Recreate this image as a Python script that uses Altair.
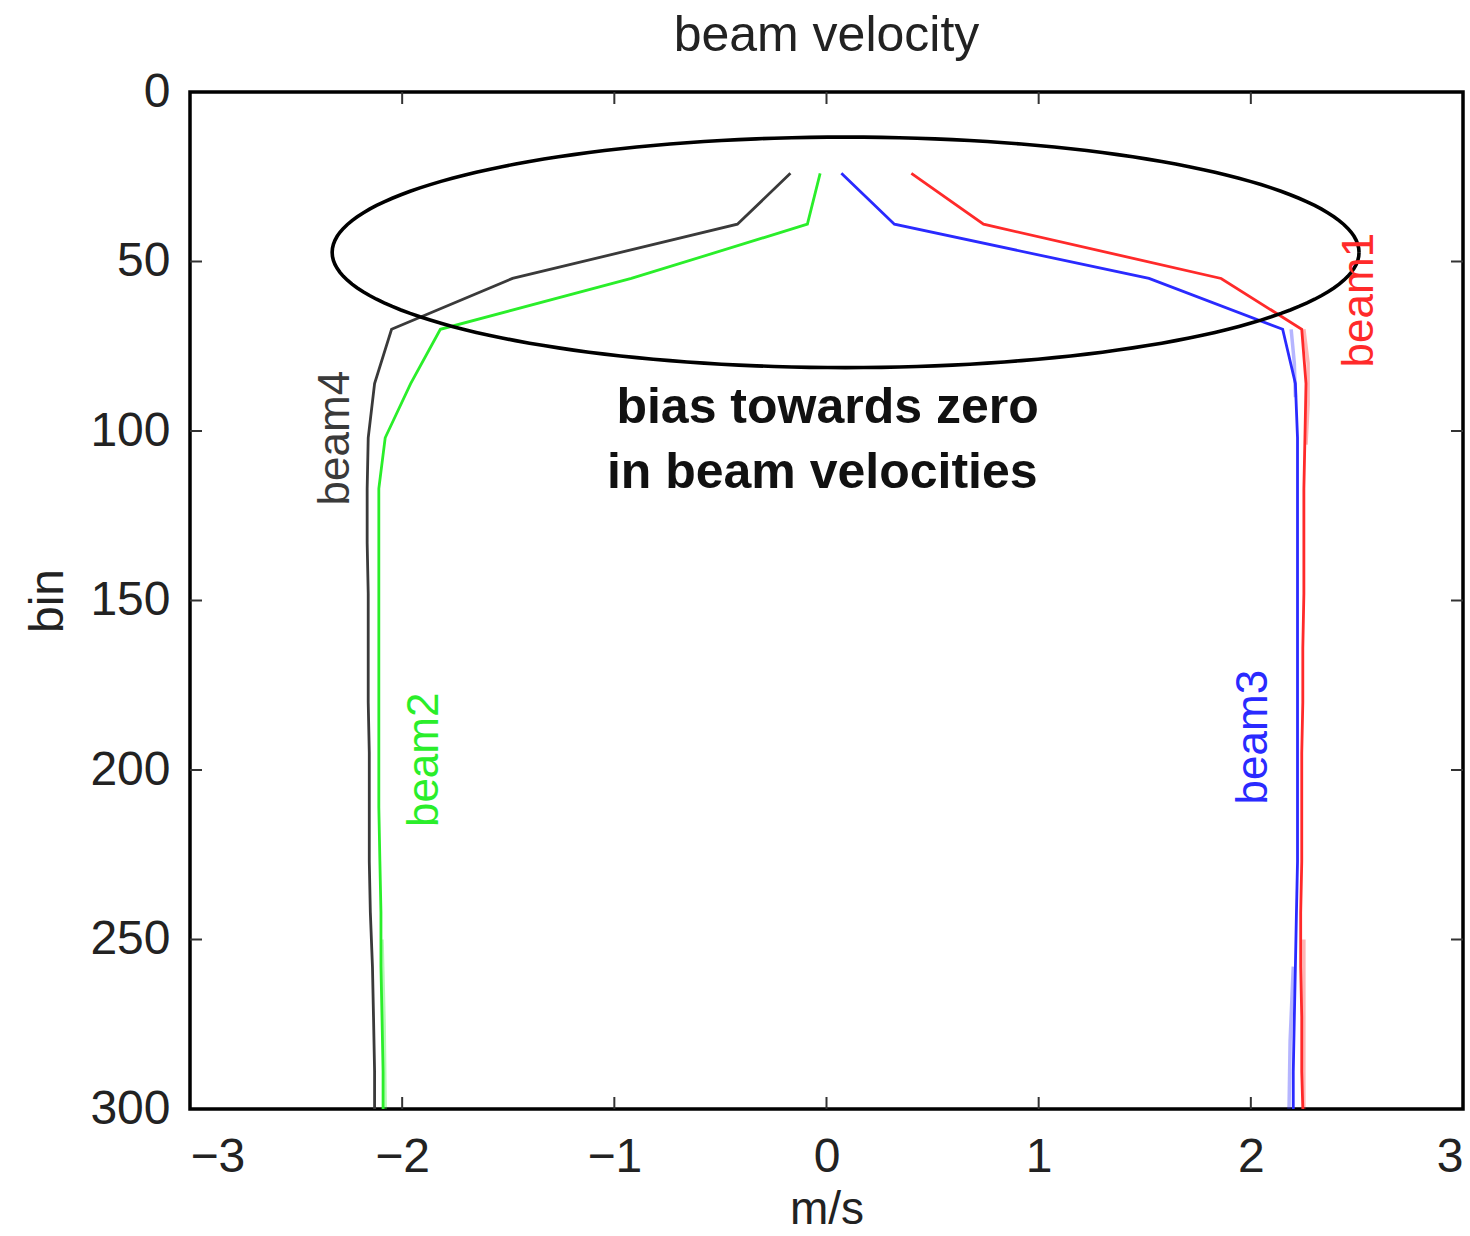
import altair as alt
import pandas as pd

# ---------------- data ----------------
bins = [24, 39, 55, 70, 86, 102, 117, 133, 148, 164, 180, 195, 211, 227, 242, 258, 273, 289, 300]

beam1 = [0.40, 0.74, 1.86, 2.24, 2.26, 2.255, 2.25, 2.25, 2.25, 2.245, 2.245, 2.24, 2.24, 2.24, 2.235, 2.235, 2.24, 2.24, 2.245]
beam2 = [-0.03, -0.09, -0.92, -1.82, -1.96, -2.08, -2.11, -2.11, -2.11, -2.11, -2.11, -2.11, -2.11, -2.105, -2.10, -2.10, -2.095, -2.09, -2.09]
beam3 = [0.07, 0.32, 1.52, 2.15, 2.21, 2.22, 2.22, 2.22, 2.22, 2.22, 2.22, 2.22, 2.22, 2.22, 2.215, 2.21, 2.205, 2.20, 2.20]
beam4 = [-0.17, -0.42, -1.48, -2.05, -2.13, -2.16, -2.165, -2.165, -2.16, -2.16, -2.16, -2.155, -2.155, -2.155, -2.15, -2.14, -2.135, -2.13, -2.13]

# faint companion traces (lighter copies seen beside the main traces)
faint_seg = ["r1", "r1", "r1", "r1", "r2", "r2", "r2",
             "b1", "b1", "b1", "b2", "b2", "b2",
             "g1", "g1", "g1"]
faint_beam = ["beam1"] * 7 + ["beam3"] * 6 + ["beam2"] * 3
faint_bin = [70, 80, 92, 104, 250, 275, 300,
             70, 80, 90, 258, 280, 300,
             250, 275, 300]
faint_x = [2.25, 2.27, 2.27, 2.26, 2.25, 2.25, 2.25,
           2.19, 2.205, 2.21, 2.20, 2.185, 2.18,
           -2.095, -2.085, -2.08]

beam_names = ["beam1", "beam2", "beam3", "beam4"]
beam_colors = ["#ff2a2a", "#2aee2a", "#2a2aff", "#3a3a3a"]

# beam label positions (x in m/s, bin)
label_x = [2.514, -1.892, 2.014, -2.311]
label_bin = [61.4, 197.0, 190.3, 102.1]

# annotation text
note_lines = ["bias towards zero", "in beam velocities"]
note_x = [0.005, -0.02]
note_bin = [97.6, 116.8]

# ellipse annotation (centre, semi-axes)
ell_cx, ell_cy, ell_a, ell_b = 0.09, 47.3, 2.42, 34.0

x_ticks = [-3, -2, -1, 0, 1, 2, 3]
y_ticks = [0, 50, 100, 150, 200, 250, 300]
x_inner_ticks = [-2, -1, 0, 1, 2]
y_inner_ticks = [50, 100, 150, 200, 250]

W, H = 1273, 1017
FONT = "Liberation Sans"
TL = 12  # inward tick length

# ---------------- tables ----------------
rows = []
for name, vals in zip(beam_names, [beam1, beam2, beam3, beam4]):
    for b, v in zip(bins, vals):
        rows.append({"beam": name, "x": v, "bin": b})
lines_df = pd.DataFrame(rows)
faint_df = pd.DataFrame({"seg": faint_seg, "beam": faint_beam, "x": faint_x, "bin": faint_bin})

labels_df = pd.DataFrame({"beam": beam_names, "x": label_x, "bin": label_bin})
note_df = pd.DataFrame({"text": note_lines, "x": note_x, "bin": note_bin})
xt_df = pd.DataFrame({"x": x_inner_ticks})
yt_df = pd.DataFrame({"bin": y_inner_ticks})

xscale = alt.Scale(domain=[-3, 3], nice=False, zero=False)
yscale = alt.Scale(domain=[0, 300], reverse=True, nice=False, zero=False)
color_scale = alt.Scale(domain=beam_names, range=beam_colors)

X = alt.X("x:Q", scale=xscale, title="m/s",
          axis=alt.Axis(values=x_ticks, format="d", ticks=False, domain=False, grid=False,
                        labelFontSize=48, labelFont=FONT, labelColor="#222",
                        labelPadding=24, titleFontSize=46, titleFont=FONT,
                        titleFontWeight="normal", titleColor="#222",
                        titleY=114, titleBaseline="alphabetic"))
Y = alt.Y("bin:Q", scale=yscale, title="bin",
          axis=alt.Axis(values=y_ticks, format="d", ticks=False, domain=False, grid=False,
                        labelFontSize=48, labelFont=FONT, labelColor="#222",
                        labelPadding=20, titleFontSize=48, titleFont=FONT,
                        titleFontWeight="normal", titleColor="#222",
                        titleX=-128, titleY=H / 2, titleAngle=270,
                        titleBaseline="alphabetic"))

Xp = alt.X("x:Q", scale=xscale, title="m/s")
Yp = alt.Y("bin:Q", scale=yscale, title="bin")

lines = alt.Chart(lines_df).mark_line(strokeWidth=2.8).encode(
    x=X, y=Y,
    color=alt.Color("beam:N", scale=color_scale, legend=None),
    order=alt.Order("bin:Q"),
)

faint = alt.Chart(faint_df).mark_line(strokeWidth=3.5, opacity=0.35).encode(
    x=Xp, y=Yp,
    color=alt.Color("beam:N", scale=color_scale, legend=None),
    detail="seg:N",
    order=alt.Order("bin:Q"),
)

ellipse = (
    alt.Chart(alt.sequence(0, 362, 2, as_="t"))
    .transform_calculate(
        x=f"{ell_cx} + {ell_a} * cos(datum.t * PI / 180)",
        bin=f"{ell_cy} + {ell_b} * sin(datum.t * PI / 180)",
    )
    .mark_line(color="black", strokeWidth=3.6)
    .encode(x=Xp, y=Yp, order=alt.Order("t:Q"))
)

beam_labels = alt.Chart(labels_df).mark_text(
    angle=270, align="center", baseline="middle", fontSize=44, font=FONT
).encode(
    x=Xp, y=Yp,
    text="beam:N",
    color=alt.Color("beam:N", scale=color_scale, legend=None),
)

note = alt.Chart(note_df).mark_text(
    align="center", baseline="alphabetic", fontSize=50, fontWeight="bold",
    font=FONT, color="#111"
).encode(x=Xp, y=Yp, text="text:N")

tick_style = dict(color="#333", strokeWidth=2)
xt_bottom = alt.Chart(xt_df).mark_rule(**tick_style).encode(
    x=Xp, y=alt.value(H), y2=alt.value(H - TL))
xt_top = alt.Chart(xt_df).mark_rule(**tick_style).encode(
    x=Xp, y=alt.value(0), y2=alt.value(TL))
yt_left = alt.Chart(yt_df).mark_rule(**tick_style).encode(
    y=Yp, x=alt.value(0), x2=alt.value(TL))
yt_right = alt.Chart(yt_df).mark_rule(**tick_style).encode(
    y=Yp, x=alt.value(W), x2=alt.value(W - TL))

chart = (
    alt.layer(faint, lines, ellipse, xt_bottom, xt_top, yt_left, yt_right, beam_labels, note)
    .properties(
        width=W, height=H,
        background="white",
        title=alt.TitleParams("beam velocity", fontSize=50, fontWeight="normal",
                              font=FONT, color="#222", anchor="middle",
                              baseline="alphabetic", offset=20, dy=53),
        autosize=alt.AutoSizeParams(type="none"),
        padding={"left": 190, "top": 92, "right": 7, "bottom": 127},
    )
    .configure_view(stroke="black", strokeWidth=3.5)
)

chart.save("out.html", embed_options={"renderer": "svg", "actions": False})
